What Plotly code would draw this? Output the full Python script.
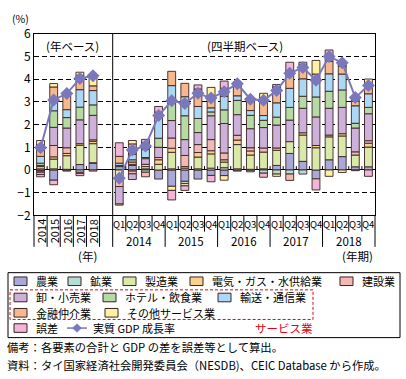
import plotly.graph_objects as go

W, H = 406, 379

# ---------------- data ----------------
annual_labels = ["2014", "2015", "2016", "2017", "2018"]
quarter_labels = ["Q1", "Q2", "Q3", "Q4"] * 5
quarter_years = ["2014", "2015", "2016", "2017", "2018"]

series_names = ["農業", "鉱業", "製造業", "電気・ガス・水供給業", "建設業",
                "卸・小売業", "ホテル・飲食業", "輸送・通信業", "金融仲介業",
                "その他サービス業", "誤差"]
colors = ["#A9A9D9", "#B3DDD5", "#D9E9A7", "#F8D18F", "#F2B9B5",
          "#CDB1DB", "#B5DAA3", "#ABD9F5", "#F5B98D", "#FEF1A1", "#F1B5D7"]

# 5 annual values (2014-2018) followed by 20 quarterly values (2014Q1-2018Q4)
agriculture = [-0.05, -0.45, -0.05, 0.24, 0.3,
               0.15, 0.2, 0.05, -0.4, -0.72, -0.5, -0.4, -0.24, -0.25, -0.05,
               -0.08, 0.05, 0.2, 0.73, 0.38, -0.39, 0.45, 0.59, 0.14, 0.14]
mining = [0.05, 0.05, 0.03, -0.1, 0.02,
          0.05, 0.05, -0.1, 0, 0.05, -0.1, 0.05, 0.08, 0.1, 0.05,
          0.03, -0.14, -0.18, -0.18, -0.18, 0, 0, 0, -0.03, 0]
manufacturing = [0.1, 0.43, 0.6, 0.85, 0.84,
                 -0.38, -0.05, 0.1, 0.25, 0.73, 0.08, 0.52, 0.63, 0.25, 1.07,
                 0.63, 0.74, 0.67, 0.52, 1.16, 0.98, 1.01, 0.91, 0.52, 0.87]
utilities = [0.05, 0.1, 0.1, 0.07, 0.1,
             0, 0.1, 0.1, 0.2, 0.18, 0.07, 0.2, 0.14, 0.1, 0.2,
             0.18, 0, 0.1, 0, 0.1, 0.1, 0.08, 0.1, 0, 0.17]
construction = [-0.05, 0.5, 0.25, -0.05, 0.07,
                -0.35, -0.12, -0.2, 0.1, 0.45, 0.49, 0.35, 0.49, 0.3, 0.21,
                0.14, 0.18, 0, -0.28, 0, 0, 0, 0, 0.14, 0.11]
trade = [-0.1, 0.8, 0.87, 1.05, 1.08,
         -0.77, -0.25, 0.25, 0.45, 0.77, 0.7, 0.53, 1.05, 1.3, 0.91,
         0.84, 0.9, 1.01, 0.95, 1.08, 1.26, 1.18, 1.16, 1.05, 1.19]
hotels = [0.1, 0.73, 0.46, 0.56, 0.46,
          0, 0.1, 0.05, 0.4, 0.77, 1.05, 0.62, 0.17, 0.6, 0.63,
          0.59, 0.32, 0.35, 0.56, 0.53, 0.88, 0.75, 0.77, 0.21, 0.28]
transport = [0.3, 0.45, 0.35, 0.77, 0.63,
             0.1, 0.25, 0.35, 0.95, 0.77, 0.84, 0.53, 0.18, 0.6, 0.2,
             0.21, 0.21, 0.63, 0.84, 0.77, 0.8, 0.77, 0.7, 0.77, 0.6]
finance = [0.5, 0.6, 0.67, 0.63, 0.21,
           0.3, 0.45, 0.3, 0.2, 0.63, 0.59, 0.77, 0.52, 0.35, 0.6,
           0.55, 0.77, 0.7, 0.77, 0.63, 0.21, 0.55, 0.35, 0.2, 0.45]
other_services = [0.2, 0.15, 0.1, 0.14, 0.49,
                  -0.05, 0.15, 0, 0, -0.18, -0.1, 0, 0.38, -0.2, 0,
                  0, 0.21, -0.1, 0, 0, 0.6, -0.28, -0.11, 0.21, 0.2]
errors = [-0.1, -0.2, 0, -0.1, -0.05,
          0.6, 0, 0.15, 0.25, -0.42, -0.2, 0.18, -0.28, 0.32, 0,
          0, -0.18, 0.11, 0.38, 0.1, -0.49, 0.5, 0.21, 0, -0.28]
gdp = [0.98, 3.09, 3.37, 4.03, 4.15,
       -0.36, 0.88, 1.06, 2.4, 3.05, 2.93, 3.38, 3.17, 3.45, 3.8,
       3.12, 3.07, 3.5, 4.26, 4.52, 3.96, 5.0, 4.73, 3.19, 3.72]

series = [agriculture, mining, manufacturing, utilities, construction, trade,
          hotels, transport, finance, other_services, errors]

# ---------------- geometry ----------------
NA = len(annual_labels)
xpos = list(range(NA)) + [NA + 1 + i for i in range(len(quarter_labels))]
XMIN, XMAX = -0.5, xpos[-1] + 0.5
PL, PR, PT, PB = 34, 375, 25, 215  # plot area in pixels

def X(px):
    return px / W

def Y(py):
    return 1 - py / H

def dpx(x):
    return PL + (x - XMIN) / (XMAX - XMIN) * (PR - PL)

OUT = "#3a2222"
FONT = "Noto Sans CJK JP"

fig = go.Figure()
for name, vals, col in zip(series_names, series, colors):
    fig.add_trace(go.Bar(
        x=xpos, y=[v if v != 0 else None for v in vals], name=name, width=0.6,
        marker=dict(color=col, line=dict(color=OUT, width=0.9)),
        showlegend=False))

gx = xpos[:NA] + [NA] + xpos[NA:]
gy = gdp[:NA] + [None] + gdp[NA:]
LINEC = "#7A77BD"
fig.add_trace(go.Scatter(x=gx, y=gy, mode="lines+markers", connectgaps=False,
                         line=dict(color=LINEC, width=2),
                         marker=dict(symbol="diamond", size=10, color=LINEC),
                         showlegend=False))

shapes = []
def line(x0, y0, x1, y1, color="black", width=1, dash=None):
    d = dict(type="line", xref="paper", yref="paper", x0=X(x0), y0=Y(y0),
             x1=X(x1), y1=Y(y1), line=dict(color=color, width=width))
    if dash:
        d["line"]["dash"] = dash
    shapes.append(d)

# separator between annual and quarterly
sep = dpx(NA + 0.5)
line(sep, PT, sep, 248)
# label-area verticals
line(PL, PB, PL, 248)
line(PR, PB, PR, 248)
for i in range(NA):
    xb = dpx(i + 0.5)
    line(xb, PB, xb, 248)
for i, xq in enumerate(xpos[NA:-1]):
    xb = dpx(xq + 0.5)
    if (i + 1) % 4 == 0:
        line(xb, PB, xb, 248)
    else:
        line(xb, PB, xb, 232)
# small ticks on zero line
for i in range(len(xpos) - 1):
    if xpos[i + 1] - xpos[i] != 1:
        continue
    xb = xpos[i] + 0.5
    shapes.append(dict(type="line", xref="x", yref="y", x0=xb, x1=xb, y0=0, y1=0.17,
                       line=dict(color="black", width=1)))

ann = []
def text(px, py, s, size=11, xanchor="center", color="black", angle=0):
    ann.append(dict(x=X(px), y=Y(py), xref="paper", yref="paper", text=s,
                    showarrow=False, xanchor=xanchor, yanchor="middle",
                    textangle=angle, font=dict(size=size, color=color, family=FONT)))

for i, lab in enumerate(annual_labels):
    text(dpx(xpos[i]), 232, lab, size=11, angle=-90)
for i, lab in enumerate(quarter_labels):
    text(dpx(xpos[NA + i]), 224, lab, size=9.5)
for k, yr in enumerate(quarter_years):
    c = (xpos[NA + 4 * k] + xpos[NA + 4 * k + 3]) / 2
    text(dpx(c), 242, yr, size=11.5)

text(20, 9, "(%)", size=10.5)
text(72, 38, "(年ベース)", size=11.5)
text(245, 38, "(四半期ベース)", size=11.5)
text(87, 258, "(年)", size=11.5)
text(357, 258, "(年期)", size=11.5)

# legend
shapes.append(dict(type="rect", xref="paper", yref="paper", x0=X(8), x1=X(400),
                   y0=Y(275), y1=Y(343), line=dict(color="black", width=1)))
shapes.append(dict(type="rect", xref="paper", yref="paper", x0=X(10), x1=X(313),
                   y0=Y(293), y1=Y(324), line=dict(color="#E60012", width=1, dash="3px,2px")))

legend_layout = [  # (series index, swatch x, row y)
    (0, 14, 284), (1, 68, 284), (2, 123, 284), (3, 190, 284), (4, 340, 284),
    (5, 14, 301), (6, 103, 301), (7, 218, 301),
    (8, 14, 317), (9, 105, 317),
    (10, 14, 333),
]
for idx, sx, ry in legend_layout:
    shapes.append(dict(type="rect", xref="paper", yref="paper", x0=X(sx), x1=X(sx + 13),
                       y0=Y(ry + 4.5), y1=Y(ry - 4.5), fillcolor=colors[idx],
                       line=dict(color=OUT, width=1)))
    text(sx + 20, ry, series_names[idx], size=11, xanchor="left")
line(67, 333, 87, 333, color=LINEC, width=1.5)
cx, cy, r = 77, 333, 4.5
shapes.append(dict(type="path", xref="paper", yref="paper",
                   path=f"M {X(cx)},{Y(cy - r)} L {X(cx + r)},{Y(cy)} L {X(cx)},{Y(cy + r)} L {X(cx - r)},{Y(cy)} Z",
                   fillcolor=LINEC, line=dict(color=LINEC, width=0.5)))
text(91, 333, "実質 GDP 成長率", size=11, xanchor="left")
text(253, 333, "サービス業", size=11.5, xanchor="left", color="#E60012")

text(5, 353, "備考：各要素の合計と GDP の差を誤差等として算出。", size=11.3, xanchor="left")
text(5, 372, "資料：タイ国家経済社会開発委員会（NESDB)、CEIC Database から作成。", size=11.3, xanchor="left")

fig.update_layout(
    width=W, height=H, margin=dict(l=0, r=0, t=0, b=0), autosize=False,
    barmode="relative", plot_bgcolor="white", paper_bgcolor="white",
    font=dict(family=FONT, size=11, color="black"),
    xaxis=dict(domain=[PL / W, PR / W], range=[XMIN, XMAX], showgrid=False, zeroline=False,
               showticklabels=False, ticks="", showline=True, linecolor="black",
               linewidth=1, mirror=True, fixedrange=True),
    yaxis=dict(domain=[1 - PB / H, 1 - PT / H], range=[-2, 6], dtick=1, tick0=0,
               showgrid=True, gridcolor="black", griddash="5px,3px", gridwidth=0.8,
               zeroline=True, zerolinecolor="black", zerolinewidth=1,
               showline=True, linecolor="black", linewidth=1, mirror=True, ticks="",
               tickfont=dict(size=12, family=FONT), fixedrange=True),
    shapes=shapes, annotations=ann, showlegend=False,
)
fig.write_html("out.html", config={"displayModeBar": False},
               post_script="document.body.style.margin='0';document.body.style.overflow='hidden';")
